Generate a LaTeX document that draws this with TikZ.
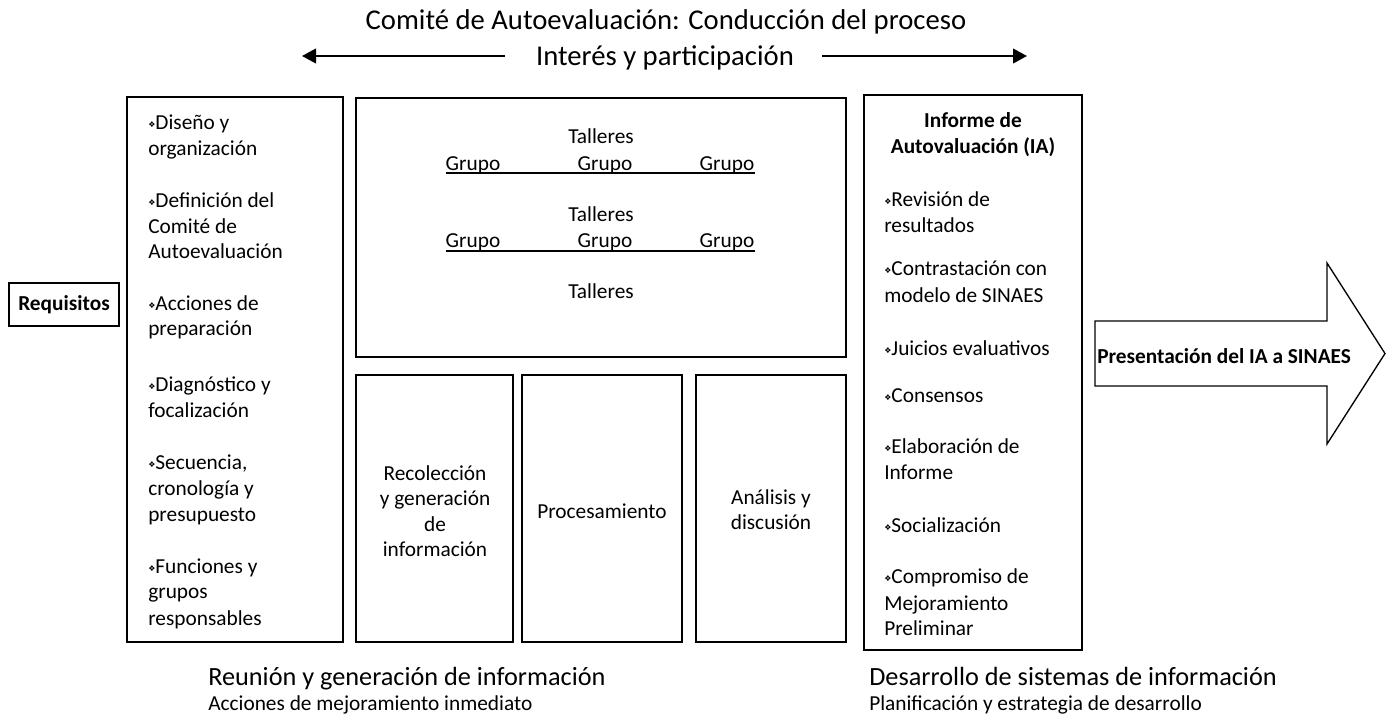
\documentclass[tikz,border=0pt]{standalone}
\usepackage{fontspec}
\setmainfont{Carlito}
\newfontfamily\dejavu{DejaVu Sans}
\usetikzlibrary{arrows.meta}
\newcommand\bul{{\dejavu\fontsize{6}{6}\selectfont\raisebox{0.35ex}{❖}}}
\begin{document}
\begin{tikzpicture}[x=0.75pt,y=-0.75pt,
  box/.style={draw, line width=1pt},
  txt/.style={font=\fontsize{16}{19}\selectfont, inner sep=0pt, anchor=base west},
  ctxt/.style={font=\fontsize{16}{19}\selectfont, inner sep=0pt, anchor=base},
  btxt/.style={font=\fontsize{16}{19}\selectfont\bfseries, inner sep=0pt, anchor=base},
  topar/.style={line width=1.5pt, -{Triangle[length=10.5pt,width=11pt]}}]
\useasboundingbox (0,0) rectangle (1390,719);

% top titles
\node[font=\fontsize{21.5}{24}\selectfont, inner sep=0pt, anchor=base] (title) at (666,29) {Comité de Autoevaluación: Conducción del proceso};
\node[font=\fontsize{21.5}{24}\selectfont, inner sep=0pt, anchor=base] (inter) at (665,65) {Interés y participación};
\coordinate (la) at (302,56);
\coordinate (lb) at (505,56);
\coordinate (ra) at (1027,56);
\coordinate (rb) at (822,56);
\draw[topar] (lb) -- (la);
\draw[topar] (rb) -- (ra);

% boxes
\draw[box] (9,283) rectangle (119,326);
\node[btxt] (req) at (64,310) {Requisitos};
\draw[box] (127,97) rectangle (343,642);
\draw[box] (356,98) rectangle (846,357);
\draw[box] (356,375) rectangle (513,642);
\draw[box] (522,375) rectangle (682,642);
\draw[box] (696,375) rectangle (846,642);
\draw[box] (864,95) rectangle (1082,650);

% left list
\foreach \t/\y [count=\i] in {{\bul Diseño y}/129, organización/155, {\bul Definición del}/207, {Comité de}/233, Autoevaluación/258, {\bul Acciones de}/310, preparación/335, {\bul Diagnóstico y}/391, focalización/417, {\bul Secuencia,}/469, {cronología y}/495, presupuesto/521, {\bul Funciones y}/573, grupos/598, responsables/625}
  \node[txt] (L\i) at (148,\y) {\t};

% talleres
\node[ctxt] (t1) at (601,143) {Talleres};
\node[ctxt] (g11) at (473,170) {Grupo};
\node[ctxt] (g12) at (605,170) {Grupo};
\node[ctxt] (g13) at (727,170) {Grupo};
\draw[line width=1pt] (446,173) -- (755,173);
\node[ctxt] (t2) at (601,221) {Talleres};
\node[ctxt] (g21) at (473,247) {Grupo};
\node[ctxt] (g22) at (605,247) {Grupo};
\node[ctxt] (g23) at (727,247) {Grupo};
\draw[line width=1pt] (446,251) -- (755,251);
\node[ctxt] (t3) at (601,298) {Talleres};

% bottom boxes
\node[ctxt, align=center, font=\fontsize{16}{19.1}\selectfont, anchor=north] (rec) at (435,465) {Recolección\\y generación\\de\\información};
\node[ctxt] (proc) at (602,518) {Procesamiento};
\node[ctxt, align=center, font=\fontsize{16}{19.1}\selectfont, anchor=north] (ana) at (771,489) {Análisis y\\discusión};

% informe
\node[btxt] (inf1) at (973,127) {Informe de};
\node[btxt] (inf2) at (973,153) {Autovaluación (IA)};
\foreach \t/\y [count=\i] in {{\bul Revisión de}/206, resultados/232, {\bul Contrastación con}/275, {modelo de SINAES}/302, {\bul Juicios evaluativos}/355, {\bul Consensos}/402, {\bul Elaboración de}/453, Informe/479, {\bul Socialización}/532, {\bul Compromiso de}/583, Mejoramiento/610, Preliminar/635}
  \node[txt] (R\i) at (884,\y) {\t};

% big arrow
\draw[box] (1095,321) -- (1327,321) -- (1327,263) -- (1385,353.5) -- (1327,444) -- (1327,386) -- (1095,386) -- cycle;
\node[btxt, anchor=base west] (pres) at (1097,363) {Presentación del IA a SINAES};

% bottom texts
\node[font=\fontsize{19.7}{22}\selectfont, inner sep=0pt, anchor=base west] (b1) at (208,685) {Reunión y generación de información};
\node[txt] (b2) at (208,710) {Acciones de mejoramiento inmediato};
\node[font=\fontsize{19.7}{22}\selectfont, inner sep=0pt, anchor=base west] (b3) at (869,685) {Desarrollo de sistemas de información};
\node[txt] (b4) at (869,710) {Planificación y estrategia de desarrollo};
\end{tikzpicture}
\end{document}
